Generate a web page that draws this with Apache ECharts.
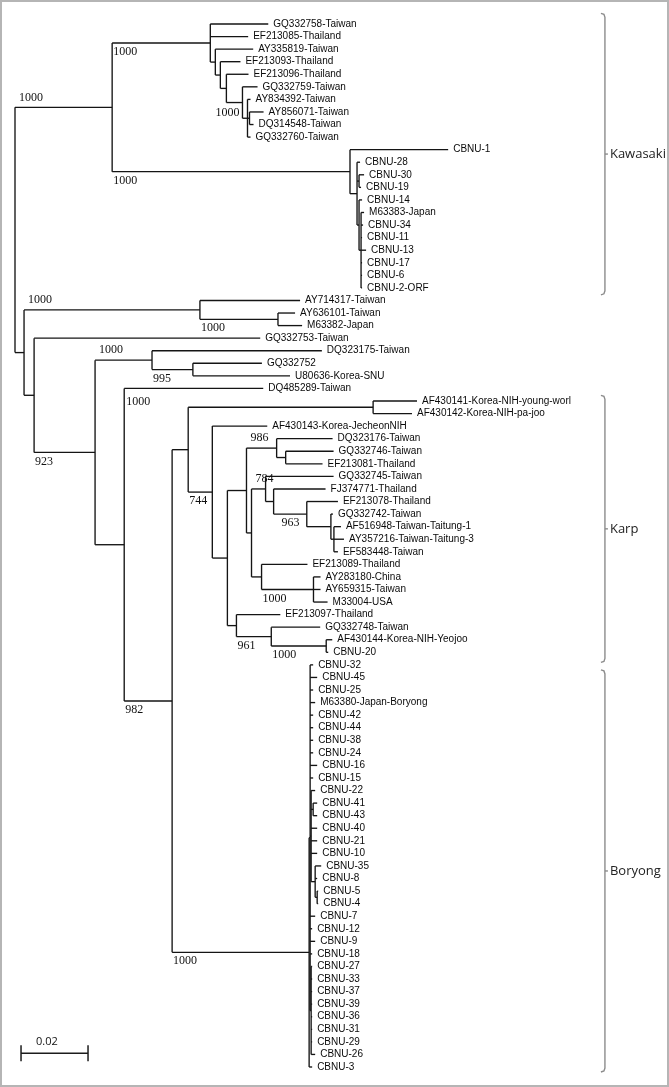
<!DOCTYPE html>
<html><head><meta charset="utf-8">
<script src="https://cdn.jsdelivr.net/npm/echarts@6/dist/echarts.min.js"></script>
<style>html,body{margin:0;padding:0;background:#fff}#c{width:669px;height:1087px}</style>
</head><body><div id="c"></div>
<script>
// ---- DATA: tree topology with branch lengths (substitutions/site), Newick per clade ----
const kawasakiTree = "((GQ332758-Taiwan:0.0173,EF213085-Thailand:0.0113,(AY335819-Taiwan:0.0113,(EF213093-Thailand:0.0060,(EF213096-Thailand:0.0066,(GQ332759-Taiwan:0.0045,(AY834392-Taiwan:0.0009,(AY856071-Taiwan:0.0042,DQ314548-Taiwan:0.0012):0.0006,GQ332760-Taiwan:0.0009):0.0015)E:0.0048):0.0018):0.0015):0.0015)A:0.0293,(CBNU-1:0.0293,(CBNU-28:0.0009,(CBNU-30:0.0015,CBNU-19:0.0006):0.0006,(CBNU-14:0.0009,(M63383-Japan:0.0009,CBNU-34:0.0006,CBNU-11:0.0003,CBNU-13:0.0015,CBNU-17:0.0003,CBNU-6:0.0003,CBNU-2-ORF:0.0003):0.0006):0.0006):0.0021)KC:0.0710)K:0.0290";
const karpTree = "((AF430141-Korea-NIH-young-worl:0.0131,AF430142-Korea-NIH-pa-joo:0.0116)AFn:0.0552,(AF430143-Korea-JecheonNIH:0.0164,(((DQ323176-Taiwan:0.0167,(GQ332746-Taiwan:0.0143,EF213081-Thailand:0.0110):0.0027)N986:0.0090,((GQ332745-Taiwan:0.0203,(FJ374771-Thailand:0.0155,(EF213078-Thailand:0.0093,(GQ332742-Taiwan:0.0006,(AF516948-Taiwan-Taitung-1:0.0021,AY357216-Taiwan-Taitung-3:0.0030,EF583448-Taiwan:0.0012):0.0009):0.0072)S963:0.0099):0.0024)N784:0.0042,(EF213089-Thailand:0.0137,(AY283180-China:0.0021,AY659315-Taiwan:0.0021,M33004-USA:0.0042)AYc:0.0155):0.0030):0.0015):0.0057,(EF213097-Thailand:0.0131,(GQ332748-Taiwan:0.0146,(AF430144-Korea-NIH-Yeojoo:0.0018,CBNU-20:0.0006)Y:0.0164)X961:0.0104):0.0027):0.0045)N744:0.0072)KP:0.0048";
const boryongTree = "((CBNU-32:0.0009,CBNU-45:0.0021,CBNU-25:0.0009,M63380-Japan-Boryong:0.0015,CBNU-42:0.0009,CBNU-44:0.0009,CBNU-38:0.0009,CBNU-24:0.0009,CBNU-16:0.0021,CBNU-15:0.0009,(CBNU-22:0.0012,(CBNU-41:0.0012,CBNU-43:0.0012):0.0006,CBNU-40:0.0018,CBNU-21:0.0018,CBNU-10:0.0018,(CBNU-35:0.0018,CBNU-8:0.0006,(CBNU-5:0.0003,CBNU-4:0.0003):0.0006):0.0012):0.0003,CBNU-7:0.0015,CBNU-12:0.0006,CBNU-9:0.0015,CBNU-18:0.0006,(CBNU-27:0.0003,CBNU-33:0.0003,CBNU-37:0.0003,CBNU-39:0.0003,CBNU-36:0.0003,CBNU-31:0.0003,CBNU-29:0.0003,CBNU-26:0.0012):0.0003):0.0003,CBNU-3:0.0009)BOR:0.0409";
const otherTree = "((AY714317-Taiwan:0.0299,(AY636101-Taiwan:0.0051,M63382-Japan:0.0072)AYg2:0.0233)AYg:0.0525,(GQ332753-Taiwan:0.0675,((DQ323175-Taiwan:0.0507,(GQ332752:0.0206,U80636-Korea-SNU:0.0290)GQU:0.0122)N4:0.0170,(DQ485289-Taiwan:0.0415,(" + karpTree + "," + boryongTree + ")N6:0.0143)N5:0.0087)N3:0.0182)N2:0.0030)N1:0.0027";

// bootstrap values (per internal node id)
const bootstrapNodes = ['K','A','E','KC','AYg','AYg2','N4','GQU','N5','N3','N6','BOR','N744','N986','N784','S963','AYc','X961','Y'];
const bootstrapValues = [1000,1000,1000,1000,1000,1000,1000,995,1000,923,982,1000,744,986,784,963,1000,961,1000];

// clades
const cladeNames = ['Kawasaki','Karp','Boryong'];
const cladeFirstLeaf = ['GQ332758-Taiwan','AF430141-Korea-NIH-young-worl','CBNU-32'];
const cladeLastLeaf = ['CBNU-2-ORF','CBNU-20','CBNU-3'];

const scaleBarValue = 0.02;
const scaleBarLabel = '0.02';

// ---- style / placement (not data) ----
const labelPlacement = {K:'above', AYg:'above', N4:'above', N986:'above', N784:'above', E:'left', N5:'topRight'};
const labelShift = {S963:7};
const bracketPad = [[-0.85,0.55],[-0.45,0.8],[0.4,0.4]];
const bracketX = 0.1761;
const scaleBarPos = [0.0018, 81.9];

// ---- parse & layout ----
function parseNewick(s){
  let i=0;
  function node(){
    const n={children:[],name:'',len:0};
    if(s[i]==='('){
      i++; n.children.push(node());
      while(s[i]===','){i++; n.children.push(node());}
      i++;
    }
    let name=''; while(i<s.length && '(),:;'.indexOf(s[i])<0) name+=s[i++];
    n.name=name;
    if(s[i]===':'){i++; let num=''; while(i<s.length && '(),;'.indexOf(s[i])<0) num+=s[i++]; n.len=parseFloat(num);}
    return n;
  }
  return node();
}
const root = parseNewick("(" + kawasakiTree + "," + otherTree + ");");
const nodes=[]; let leafCount=0; const leafY={};
function layout(n, depth, parentDepth){
  n.x=depth; n.px=parentDepth;
  if(n.children.length){
    n.children.forEach(c=>layout(c, depth+c.len, depth));
    n.y0=n.children[0].y; n.y1=n.children[n.children.length-1].y;
    n.y=(n.y0+n.y1)/2;
  } else { n.y=leafCount++; leafY[n.name]=n.y; }
  nodes.push(n);
}
layout(root,0,null);
const bsMap={}; bootstrapNodes.forEach((k,i)=>bsMap[k]=bootstrapValues[i]);

const LINE={stroke:'#141414', lineWidth:1.35};
const LEAF_FONT='10px "Liberation Sans", Arial, sans-serif';
const BS_FONT='12px "Liberation Serif", "Times New Roman", serif';

const chart=echarts.init(document.getElementById('c'),null,{renderer:'canvas'});
chart.setOption({
  animation:false,
  grid:{left:15,right:51,top:24,bottom:20},
  xAxis:{type:'value',min:0,max:0.18,show:false},
  yAxis:{type:'value',min:0,max:leafCount-1,inverse:true,show:false},
  graphic:[{type:'rect',shape:{x:1,y:1,width:667,height:1085},style:{fill:'none',stroke:'#b5b5b5',lineWidth:2},silent:true}],
  series:[
    {type:'custom', coordinateSystem:'cartesian2d', silent:true,
     data:nodes.map(n=>[n.x,n.y]),
     renderItem:function(params,api){
       const n=nodes[params.dataIndex];
       const p=api.coord([n.x,n.y]);
       const ch=[];
       let q=null;
       if(n.px!==null){
         q=api.coord([n.px,n.y]);
         ch.push({type:'line',shape:{x1:q[0],y1:p[1],x2:p[0],y2:p[1]},style:LINE});
       }
       if(n.children.length){
         const a=api.coord([n.x,n.y0]), b=api.coord([n.x,n.y1]);
         ch.push({type:'line',shape:{x1:p[0],y1:a[1],x2:p[0],y2:b[1]},style:LINE});
       } else {
         ch.push({type:'text',x:p[0]+5,y:p[1],style:{text:n.name,font:LEAF_FONT,fill:'#0a0a0a',align:'left',verticalAlign:'middle'}});
       }
       if(bsMap[n.name]!==undefined && q){
         const pl=labelPlacement[n.name]||'below';
         let tx,ty,al='left',va='top';
         if(pl==='below'){tx=q[0]+1;ty=p[1]+3;}
         else if(pl==='above'){tx=q[0]+4;ty=p[1]-4;va='bottom';}
         else if(pl==='left'){tx=p[0]-3;ty=p[1]+4;al='right';}
         else {const a=api.coord([n.x,n.y0]); tx=p[0]+2;ty=a[1]+7;}
         tx+=labelShift[n.name]||0;
         ch.push({type:'text',x:tx,y:ty,style:{text:String(bsMap[n.name]),font:BS_FONT,fill:'#111',align:al,verticalAlign:va}});
       }
       return {type:'group',children:ch};
     }},
    {type:'custom', coordinateSystem:'cartesian2d', silent:true,
     data:cladeNames.map((c,i)=>[bracketX,(leafY[cladeFirstLeaf[i]]+leafY[cladeLastLeaf[i]])/2]),
     renderItem:function(params,api){
       const i=params.dataIndex;
       const t=api.coord([bracketX,leafY[cladeFirstLeaf[i]]+bracketPad[i][0]]);
       const b=api.coord([bracketX,leafY[cladeLastLeaf[i]]+bracketPad[i][1]]);
       const x=t[0], ym=(t[1]+b[1])/2;
       const st={stroke:'#8c8c8c',lineWidth:1.4,fill:'none'};
       return {type:'group',children:[
         {type:'polyline',shape:{points:[[x-4,t[1]],[x-1,t[1]+1],[x,t[1]+4],[x,b[1]-4],[x-1,b[1]-1],[x-4,b[1]]]},style:st},
         {type:'line',shape:{x1:x,y1:ym,x2:x+3,y2:ym},style:st},
         {type:'text',x:x+5,y:ym,style:{text:cladeNames[i],font:'13px "Open Sans", "Noto Sans", sans-serif',fill:'#222',align:'left',verticalAlign:'middle'}}
       ]};
     }},
    {type:'custom', coordinateSystem:'cartesian2d', silent:true,
     data:[scaleBarPos],
     renderItem:function(params,api){
       const a=api.coord(scaleBarPos), b=api.coord([scaleBarPos[0]+scaleBarValue,scaleBarPos[1]]);
       const st={stroke:'#1c1c1c',lineWidth:1.5};
       return {type:'group',children:[
         {type:'line',shape:{x1:a[0],y1:a[1],x2:b[0],y2:a[1]},style:st},
         {type:'line',shape:{x1:a[0],y1:a[1]-8,x2:a[0],y2:a[1]+8},style:st},
         {type:'line',shape:{x1:b[0],y1:a[1]-8,x2:b[0],y2:a[1]+8},style:st},
         {type:'text',x:a[0]+15,y:a[1]-11,style:{text:scaleBarLabel,font:'11px "Open Sans", sans-serif',fill:'#111',align:'left',verticalAlign:'middle'}}
       ]};
     }}
  ]
});
</script></body></html>
